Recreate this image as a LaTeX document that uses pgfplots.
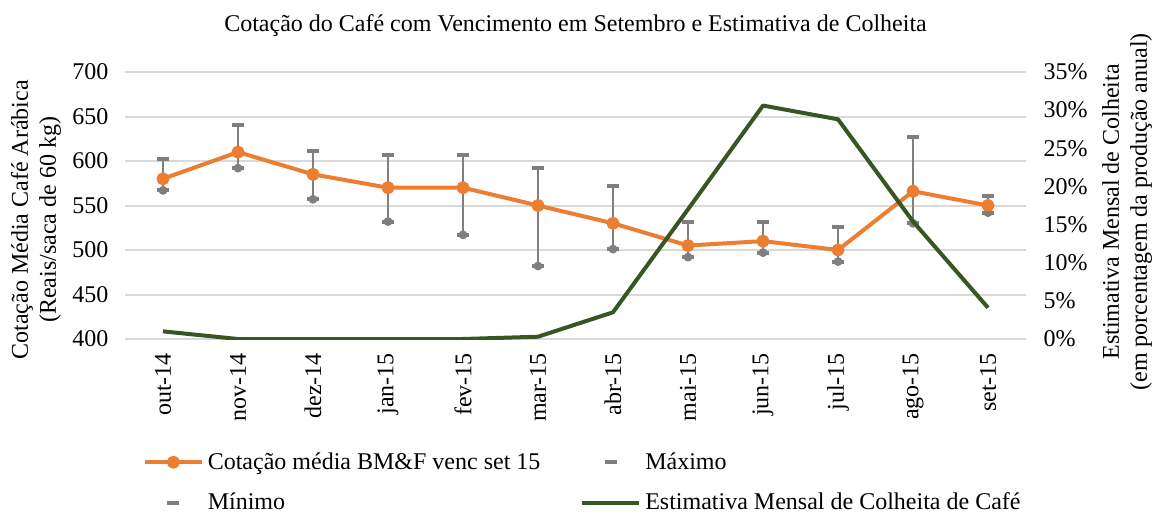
\documentclass[border=0pt]{standalone}
\usepackage{fontspec}
\setmainfont{Liberation Serif}
\usepackage{pgfplots}
\usepackage{pgfplotstable}
\pgfplotsset{compat=1.18}

\definecolor{cafe}{HTML}{ED7D31}
\definecolor{barra}{HTML}{7F7F7F}
\definecolor{colheita}{HTML}{375623}
\definecolor{grade}{HTML}{D9D9D9}

% x: month index (out-14 = 0), cotação média / máximo / mínimo, colheita em %
\pgfplotstableread{
x mean max min harv
0  580 602 567 1.0
1  610 641 592 0.0
2  585 611 557 0.0
3  570 607 532 0.0
4  570 607 517 0.0
5  550 592 482 0.3
6  530 572 501 3.5
7  505 531 492 17.0
8  510 531 497 30.6
9  500 526 487 28.8
10 566 627 530 15.4
11 550 561 542 4.1
}\dados

\begin{document}
\begin{tikzpicture}
\pgfplotsset{
  base/.style={
    scale only axis, width=450pt, height=133.5pt,
    xmin=-0.5, xmax=11.5,
    axis line style={draw=none}, major tick length=0pt,
    tick label style={font=\fontsize{12}{14}\selectfont},
    label style={font=\fontsize{12}{14}\selectfont},
    /pgf/number format/assume math mode=true,
  },
  legend image code/.code={
    \draw[mark repeat=2,mark phase=2,#1] plot coordinates {(0cm,0cm) (0.5cm,0cm) (1cm,0cm)};
  },
}
\begin{axis}[base, name=ax,
  ymin=400, ymax=700, ytick={400,450,...,700},
  ymajorgrids, grid style={grade, line width=1pt},
  xtick={0,...,11},
  xticklabels={out-14,nov-14,dez-14,jan-15,fev-15,mar-15,abr-15,mai-15,jun-15,jul-15,ago-15,set-15},
  xticklabel style={rotate=90, anchor=east},
  xticklabel shift=3.5pt,
  yticklabel style={xshift=-5pt},
  ylabel={Cotação Média Café Arábica\\(Reais/saca de 60 kg)},
  ylabel style={align=center, at={(axis description cs:-0.0994,0.446)}, anchor=center},
  title={Cotação do Café com Vencimento em Setembro e Estimativa de Colheita},
  title style={font=\fontsize{12}{14}\selectfont, at={(axis description cs:0.5,1)}, anchor=center, yshift=17pt},
  legend columns=2,
  legend cell align=left,
  legend style={at={(axis description cs:0,0)}, anchor=north west, xshift=8.5pt, yshift=-54.5pt,
    draw=none, fill=none, inner sep=0pt, row sep=6.5pt,
    font=\fontsize{12}{14}\selectfont,
    /tikz/column 2/.style={column sep=18pt}},
]
% linhas entre mínimo e máximo
\addplot[barra, only marks, mark=none, forget plot,
  error bars/.cd, y dir=plus, y explicit, error mark=none,
  error bar style={line width=1.4pt}]
  table[x=x, y=min, y error expr=\thisrow{max}-\thisrow{min}] {\dados};

\addplot[cafe, line width=2pt, line join=round, mark=*, mark size=2.25pt,
  mark options={solid, fill=cafe, draw=cafe}]
  table[x=x, y=mean] {\dados};
\addlegendentry{Cotação média BM\&F venc set 15}

\addplot[barra, only marks, mark=-, mark size=3pt, mark options={line width=2pt}]
  table[x=x, y=max] {\dados};
\addlegendentry{Máximo}

\addplot[barra, only marks, mark=-, mark size=3pt, mark options={line width=2pt}]
  table[x=x, y=min] {\dados};
\addlegendentry{Mínimo}

\addlegendimage{colheita, line width=2pt}
\addlegendentry{Estimativa Mensal de Colheita de Café}
\end{axis}

\begin{axis}[base,
  axis y line*=right, axis x line=none,
  ymin=0, ymax=35, ytick={0,5,...,35},
  yticklabel={\pgfmathprintnumber{\tick}\%},
  yticklabel style={xshift=5.5pt},
  ylabel={Estimativa Mensal de Colheita\\(em porcentagem da produção anual)},
  ylabel style={align=center, at={(axis description cs:1.1128,0.476)}, anchor=center},
]
\addplot[colheita, line width=2pt, line join=round, mark=none]
  table[x=x, y=harv] {\dados};
\end{axis}

\pgfresetboundingbox
\path[use as bounding box] ([xshift=-62.75pt,yshift=-87.5pt]ax.south west)
  rectangle ([xshift=64.25pt,yshift=36pt]ax.north east);
\end{tikzpicture}
\end{document}
